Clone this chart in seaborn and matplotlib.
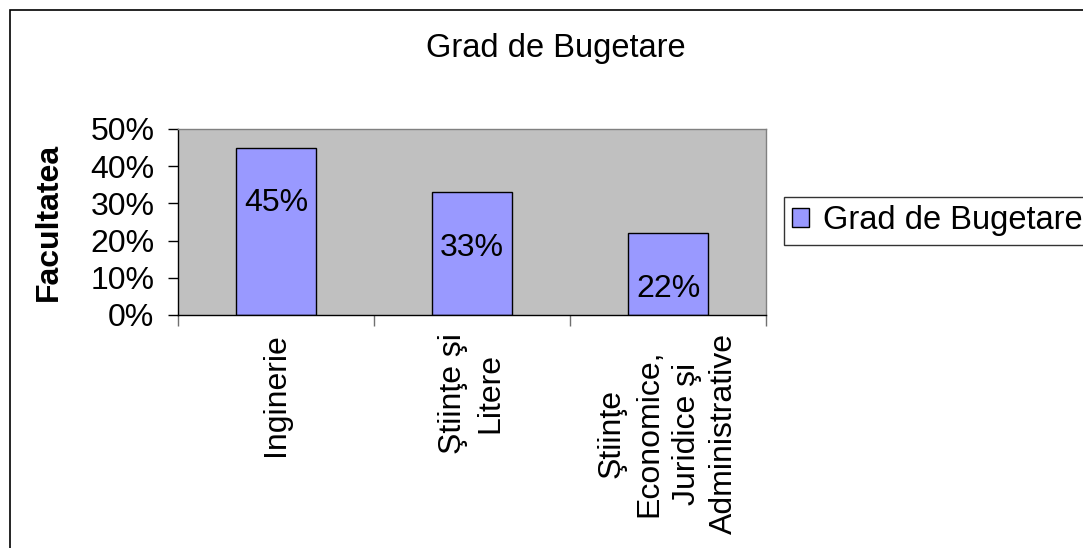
import matplotlib
matplotlib.use("Agg")
import matplotlib.pyplot as plt
import matplotlib.patches as mpatches
from matplotlib.ticker import PercentFormatter, FixedLocator
import seaborn as sns
import pandas as pd

# data
categories = ["Inginerie",
              "Ştiinţe şi\nLitere",
              "Ştiinţe\nEconomice,\nJuridice şi\nAdministrative"]
values = [45, 33, 22]
series_name = "Grad de Bugetare"
title = "Grad de Bugetare"
ylabel = "Facultatea"

df = pd.DataFrame({"Facultatea": categories, "Grad": values})

sns.set_style("white")
plt.rcParams["font.family"] = ["Liberation Sans", "DejaVu Sans"]
plt.rcParams["text.color"] = "black"
plt.rcParams["axes.labelcolor"] = "black"
plt.rcParams["xtick.color"] = "black"
plt.rcParams["ytick.color"] = "black"

fig = plt.figure(figsize=(10.83, 5.48), dpi=100)
ax = fig.add_axes([178 / 1083, 1 - 315 / 548, 588 / 1083, 186 / 548])

bar_color = "#9999FF"
sns.barplot(data=df, x="Facultatea", y="Grad", color=bar_color, saturation=1,
            width=0.41, edgecolor="black", linewidth=1, ax=ax)

ax.set_facecolor("#C0C0C0")
ax.set_ylim(0, 50)
ax.set_xlim(-0.5, len(categories) - 0.5)
ax.yaxis.set_major_formatter(PercentFormatter(100, decimals=0))
ax.set_yticks(range(0, 51, 10))

# tick marks between categories, labels at centers
ax.xaxis.set_minor_locator(FixedLocator([i - 0.5 for i in range(len(categories) + 1)]))
ax.tick_params(axis="x", which="major", bottom=True, length=0, pad=13, labelsize=23,
               labelcolor="black", rotation=90)
ax.tick_params(axis="x", which="minor", bottom=True, length=8, width=1,
               color="#707070", direction="out")
ax.tick_params(axis="y", left=True, length=7, width=1, color="black", direction="out",
               pad=10, labelsize=23, labelcolor="black")
for lbl in ax.get_xticklabels():
    lbl.set_multialignment("center")
    lbl.set_linespacing(1.33)

for side in ["top", "right"]:
    ax.spines[side].set_color("#808080")
    ax.spines[side].set_linewidth(1)
for side in ["left", "bottom"]:
    ax.spines[side].set_color("black")
    ax.spines[side].set_linewidth(1)

ax.set_xlabel("")
ax.set_ylabel(ylabel, fontsize=23, fontweight="bold", color="black")
ax.yaxis.set_label_coords(-0.194, 0.5)

# value labels inside bars
for i, v in enumerate(values):
    ax.annotate(f"{v}%", xy=(i, v), xytext=(0, -40), textcoords="offset points",
                ha="center", va="center", fontsize=23, color="black")

fig.text(556 / 1083, 1 - 48 / 548, title, ha="center", va="center", fontsize=23.5,
         color="black")

handle = mpatches.Patch(facecolor=bar_color, edgecolor="black", linewidth=1)
leg = fig.legend([handle], [series_name], loc="center left",
                 bbox_to_anchor=(784 / 1083, 1 - 221 / 548), fontsize=23.5,
                 frameon=True, fancybox=False, handlelength=0.52, handleheight=0.52,
                 handletextpad=0.42, borderpad=0.25, borderaxespad=0)
leg.get_frame().set_edgecolor("black")
leg.get_frame().set_linewidth(1)

# outer chart border
fig.patches.append(mpatches.Rectangle((10 / 1083, -0.1), 1.2, 1 - 10 / 548 + 0.1,
                                      transform=fig.transFigure, fill=False,
                                      edgecolor="black", linewidth=1.2))

fig.savefig("out.png", dpi=100)
